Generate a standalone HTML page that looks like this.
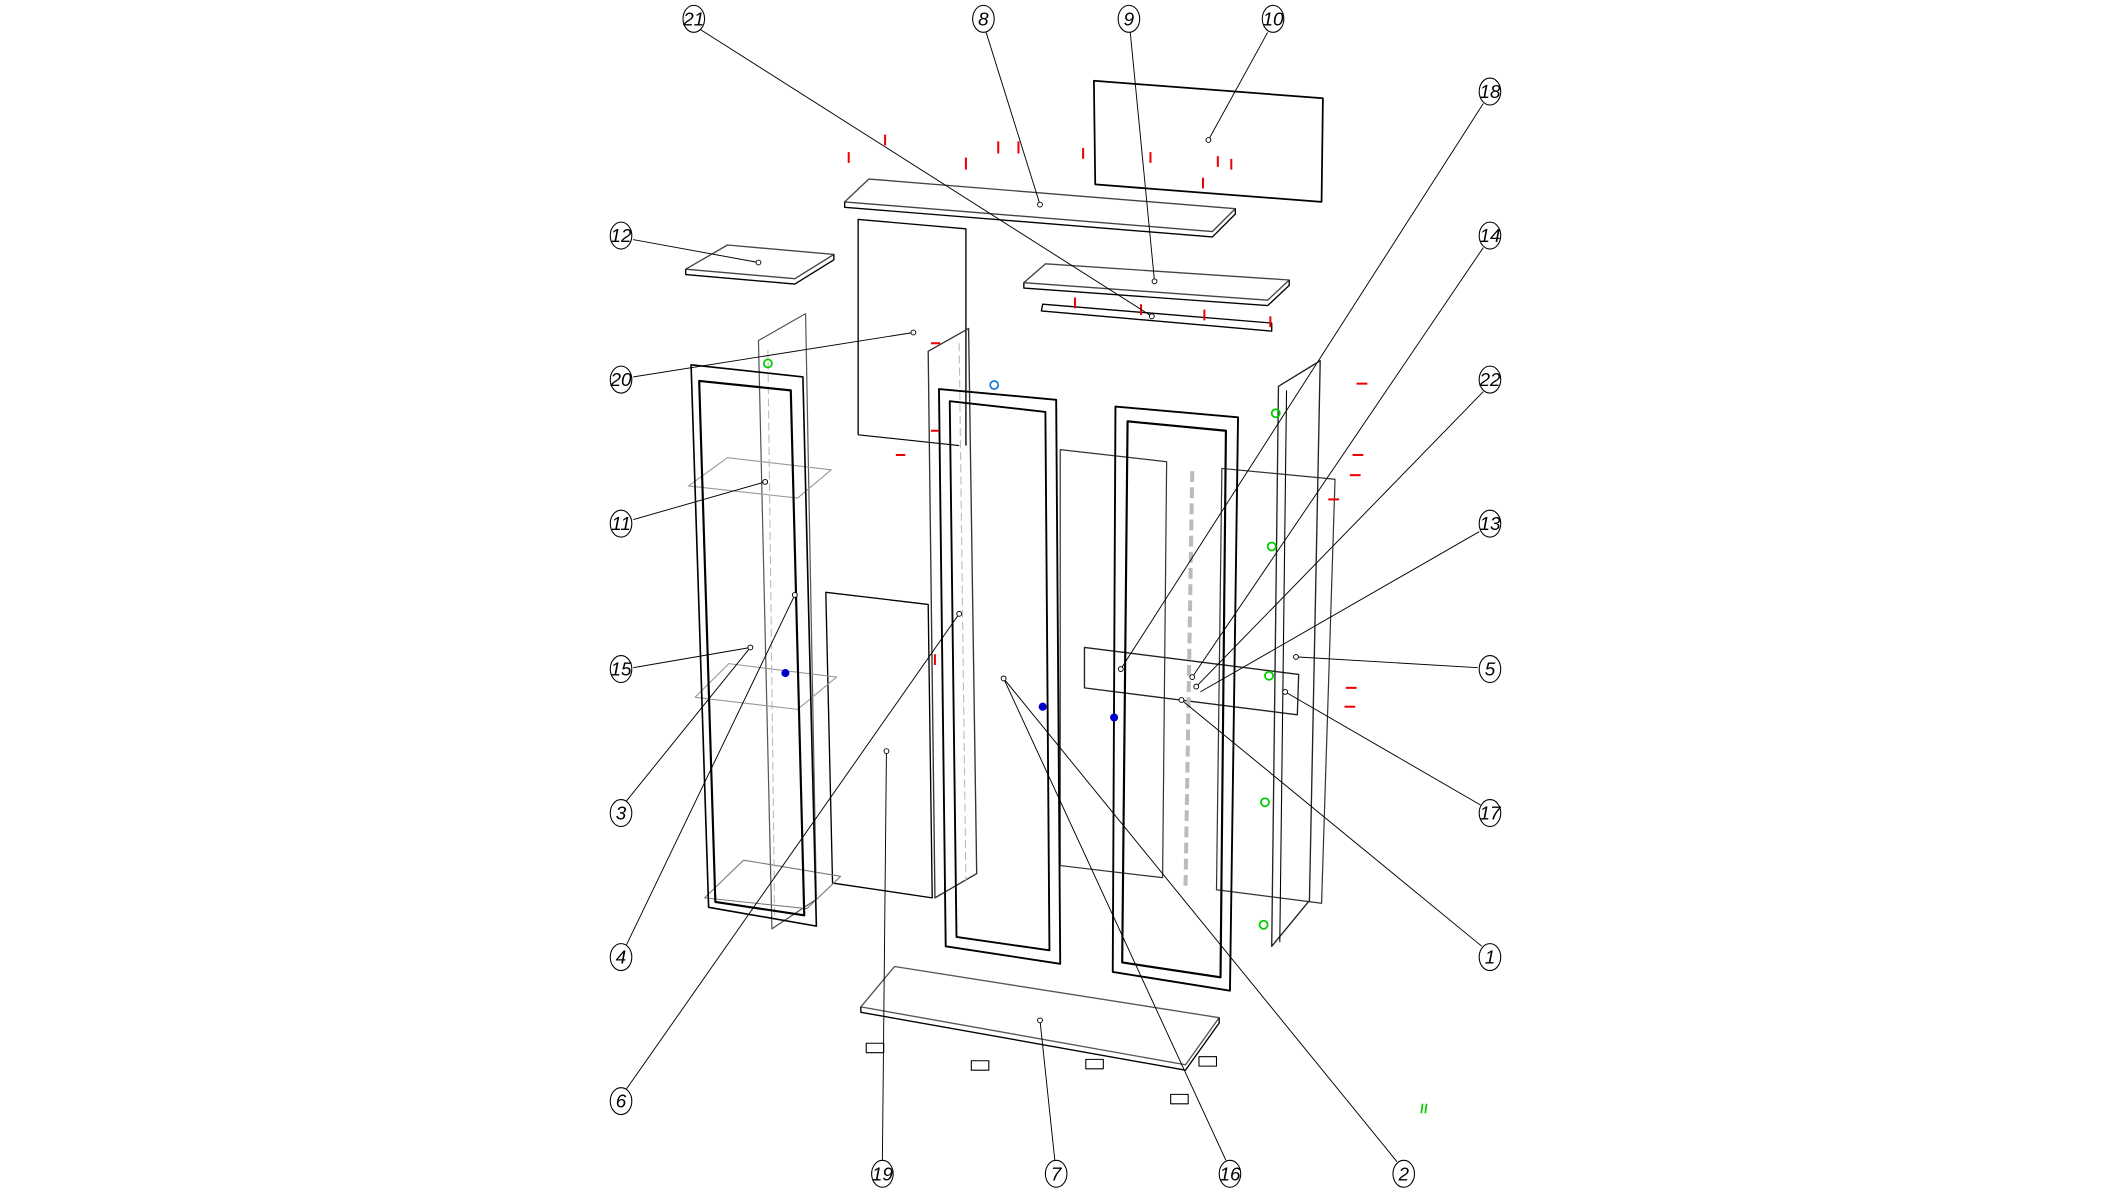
<!DOCTYPE html>
<html><head><meta charset="utf-8"><style>
html,body{margin:0;padding:0;background:#fff;width:2111px;height:1194px;overflow:hidden}
svg{display:block}
text{font-family:"Liberation Sans",sans-serif;font-style:italic;font-size:14px;text-anchor:middle;dominant-baseline:central}
</style></head><body>
<svg width="2111" height="1194" viewBox="0 0 1567 887" preserveAspectRatio="none" xmlns="http://www.w3.org/2000/svg">
<g fill="none" stroke-linejoin="round">
<polygon points="812,60 982,73 981,150 813,137" stroke="#000" stroke-width="1.3"/>
<polygon points="627,150 645,133 917,155 900,172" stroke="#444" stroke-width="1"/>
<polyline points="627,150 627,154 900,176 917,159 917,155" stroke="#000" stroke-width="1"/>
<polygon points="509,200 540,182 619,189 590,207" stroke="#444" stroke-width="1"/>
<polyline points="509,200 509,204 590,211 619,193 619,189" stroke="#000" stroke-width="1"/>
<polygon points="760,210 776,196 957,208 941,223" stroke="#444" stroke-width="1"/>
<polyline points="760,210 760,214 941,227 957,212 957,208" stroke="#000" stroke-width="1"/>
<polygon points="774,226 944,240 944,246 773,231" stroke="#000" stroke-width="1"/>
<polyline points="637,323 637,163 717,170 717,331" stroke="#000" stroke-width="1"/>
<line x1="637" y1="323" x2="712" y2="331" stroke="#000" stroke-width="0.8"/>
<polygon points="613,440 689,449 692,667 618,656" stroke="#000" stroke-width="1"/>
<polygon points="787,334 866,343 863,652 787,643" stroke="#333" stroke-width="0.9"/>
<polygon points="907,348 991,356 981,671 903,661" stroke="#333" stroke-width="0.9"/>
<polygon points="805,481 964,501 963,531 805,511" stroke="#222" stroke-width="1"/>
<line x1="885" y1="350" x2="880" y2="660" stroke="#bbb" stroke-width="3" stroke-dasharray="8,4"/>
<polygon points="563,253 598,233 606,668 573,690" stroke="#555" stroke-width="0.9"/>
<polygon points="511,361 540,340 617,349 592,370" stroke="#999" stroke-width="0.8"/>
<polygon points="516,518 541,493 621,503 592,527" stroke="#999" stroke-width="0.8"/>
<polygon points="523,667 552,639 624,651 599,675" stroke="#777" stroke-width="0.8"/>
<line x1="570" y1="260" x2="575" y2="680" stroke="#bbb" stroke-width="0.8" stroke-dasharray="6,3"/>
<polygon points="513,271 596,280 606,688 526,674" stroke="#000" stroke-width="1.2"/>
<polygon points="519,283 587,290 597,680 531,670" stroke="#000" stroke-width="1.6"/>
<polygon points="689,261 719,244 725,649 694,667" stroke="#333" stroke-width="1"/>
<line x1="712" y1="255" x2="717" y2="655" stroke="#bbb" stroke-width="0.8" stroke-dasharray="6,3"/>
<polygon points="697,289 784,297 787,716 702,703" stroke="#000" stroke-width="1.4"/>
<polygon points="705,298 776,306 779,706 710,696" stroke="#000" stroke-width="1.4"/>
<polygon points="828,302 919,310 913,736 826,722" stroke="#000" stroke-width="1.4"/>
<polygon points="837,313 910,320 906,726 833,715" stroke="#000" stroke-width="1.6"/>
<polygon points="949,287 980,268 972,669 944,703" stroke="#222" stroke-width="1"/>
<line x1="955" y1="290" x2="950" y2="700" stroke="#000" stroke-width="0.8"/>
<polygon points="664,718 905,756 880,791 639,748" stroke="#555" stroke-width="1"/>
<polyline points="639,748 639,752 880,795 905,760 905,756" stroke="#000" stroke-width="1"/>
<g stroke="#000" stroke-width="0.8">
<rect x="643" y="775" width="13" height="7"/><rect x="721" y="788" width="13" height="7"/>
<rect x="806" y="787" width="13" height="7"/><rect x="890" y="785" width="13" height="7"/>
<rect x="869" y="813" width="13" height="7"/>
</g>
</g>
<g stroke="#e00" stroke-width="1.5">
<line x1="630" y1="113" x2="630" y2="121"/><line x1="657" y1="100" x2="657" y2="108"/>
<line x1="717" y1="117" x2="717" y2="126"/><line x1="741" y1="105" x2="741" y2="114"/>
<line x1="756" y1="105" x2="756" y2="114"/><line x1="804" y1="110" x2="804" y2="118"/>
<line x1="854" y1="113" x2="854" y2="121"/><line x1="904" y1="116" x2="904" y2="124"/>
<line x1="914" y1="118" x2="914" y2="126"/><line x1="893" y1="132" x2="893" y2="140"/>
<line x1="798" y1="221" x2="798" y2="229"/><line x1="847" y1="226" x2="847" y2="234"/>
<line x1="894" y1="230" x2="894" y2="238"/><line x1="943" y1="235" x2="943" y2="243"/>
<line x1="691" y1="255" x2="698" y2="255"/><line x1="691" y1="320" x2="697" y2="320"/>
<line x1="665" y1="338" x2="672" y2="338"/><line x1="1007" y1="285" x2="1015" y2="285"/>
<line x1="1004" y1="338" x2="1012" y2="338"/><line x1="1002" y1="353" x2="1010" y2="353"/>
<line x1="986" y1="371" x2="994" y2="371"/><line x1="999" y1="511" x2="1007" y2="511"/>
<line x1="998" y1="525" x2="1006" y2="525"/><line x1="694" y1="486" x2="694" y2="494"/>
</g>
<g stroke="#0c0" stroke-width="1.3" fill="none">
<circle cx="570" cy="270" r="3"/><circle cx="947" cy="307" r="3"/><circle cx="944" cy="406" r="3"/>
<circle cx="942" cy="502" r="3"/><circle cx="939" cy="596" r="3"/><circle cx="938" cy="687" r="3"/>
<line x1="1056" y1="820" x2="1055" y2="827"/><line x1="1059" y1="820" x2="1058" y2="827"/>
</g>
<g fill="#00c"><circle cx="583" cy="500" r="3"/><circle cx="774" cy="525" r="3"/><circle cx="827" cy="533" r="3"/></g>
<circle cx="738" cy="286" r="3" fill="none" stroke="#1a7ad8" stroke-width="1.3"/>
<g stroke="#000" stroke-width="0.7" fill="none">
<line x1="520" y1="22" x2="855" y2="235"/><line x1="732" y1="24" x2="772" y2="152"/>
<line x1="839" y1="24" x2="857" y2="209"/><line x1="941" y1="24" x2="897" y2="104"/>
<line x1="1101" y1="77" x2="832" y2="497"/><line x1="1101" y1="184" x2="885" y2="503"/>
<line x1="1101" y1="291" x2="888" y2="510"/><line x1="1098" y1="395" x2="891" y2="514"/>
<line x1="1097" y1="496" x2="962" y2="488"/><line x1="1099" y1="598" x2="954" y2="514"/>
<line x1="1100" y1="703" x2="877" y2="520"/><line x1="1037" y1="863" x2="745" y2="504"/>
<line x1="910" y1="862" x2="745" y2="504"/><line x1="783" y1="862" x2="772" y2="758"/>
<line x1="655" y1="862" x2="658" y2="558"/><line x1="465" y1="809" x2="712" y2="456"/>
<line x1="465" y1="702" x2="590" y2="442"/><line x1="465" y1="595" x2="557" y2="481"/>
<line x1="470" y1="496" x2="557" y2="481"/><line x1="470" y1="386" x2="568" y2="358"/>
<line x1="470" y1="280" x2="678" y2="247"/><line x1="470" y1="178" x2="563" y2="195"/>
</g>
<g fill="#fff" stroke="#000" stroke-width="0.7">
<circle cx="855" cy="235" r="1.8"/><circle cx="772" cy="152" r="1.8"/><circle cx="857" cy="209" r="1.8"/>
<circle cx="897" cy="104" r="1.8"/><circle cx="832" cy="497" r="1.8"/><circle cx="885" cy="503" r="1.8"/>
<circle cx="888" cy="510" r="1.8"/><circle cx="962" cy="488" r="1.8"/><circle cx="954" cy="514" r="1.8"/>
<circle cx="877" cy="520" r="1.8"/><circle cx="745" cy="504" r="1.8"/><circle cx="772" cy="758" r="1.8"/>
<circle cx="658" cy="558" r="1.8"/><circle cx="712" cy="456" r="1.8"/><circle cx="590" cy="442" r="1.8"/>
<circle cx="557" cy="481" r="1.8"/><circle cx="568" cy="358" r="1.8"/><circle cx="678" cy="247" r="1.8"/>
<circle cx="563" cy="195" r="1.8"/>
</g>
<g fill="#fff" stroke="#000" stroke-width="0.8">
<ellipse cx="515" cy="14" rx="8" ry="10"/><ellipse cx="730" cy="14" rx="8" ry="10"/>
<ellipse cx="838" cy="14" rx="8" ry="10"/><ellipse cx="945" cy="14" rx="8" ry="10"/>
<ellipse cx="1106" cy="68" rx="8" ry="10"/><ellipse cx="1106" cy="175" rx="8" ry="10"/>
<ellipse cx="1106" cy="282" rx="8" ry="10"/><ellipse cx="1106" cy="389" rx="8" ry="10"/>
<ellipse cx="1106" cy="497" rx="8" ry="10"/><ellipse cx="1106" cy="604" rx="8" ry="10"/>
<ellipse cx="1106" cy="711" rx="8" ry="10"/><ellipse cx="1042" cy="872" rx="8" ry="10"/>
<ellipse cx="913" cy="872" rx="8" ry="10"/><ellipse cx="784" cy="872" rx="8" ry="10"/>
<ellipse cx="655" cy="872" rx="8" ry="10"/><ellipse cx="461" cy="818" rx="8" ry="10"/>
<ellipse cx="461" cy="711" rx="8" ry="10"/><ellipse cx="461" cy="604" rx="8" ry="10"/>
<ellipse cx="461" cy="497" rx="8" ry="10"/><ellipse cx="461" cy="389" rx="8" ry="10"/>
<ellipse cx="461" cy="282" rx="8" ry="10"/><ellipse cx="461" cy="175" rx="8" ry="10"/>
</g>
<g fill="#000">
<text x="515" y="14">21</text><text x="730" y="14">8</text><text x="838" y="14">9</text><text x="945" y="14">10</text>
<text x="1106" y="68">18</text><text x="1106" y="175">14</text><text x="1106" y="282">22</text><text x="1106" y="389">13</text>
<text x="1106" y="497">5</text><text x="1106" y="604">17</text><text x="1106" y="711">1</text><text x="1042" y="872">2</text>
<text x="913" y="872">16</text><text x="784" y="872">7</text><text x="655" y="872">19</text><text x="461" y="818">6</text>
<text x="461" y="711">4</text><text x="461" y="604">3</text><text x="461" y="497">15</text><text x="461" y="389">11</text>
<text x="461" y="282">20</text><text x="461" y="175">12</text>
</g>
</svg>
</body></html>
